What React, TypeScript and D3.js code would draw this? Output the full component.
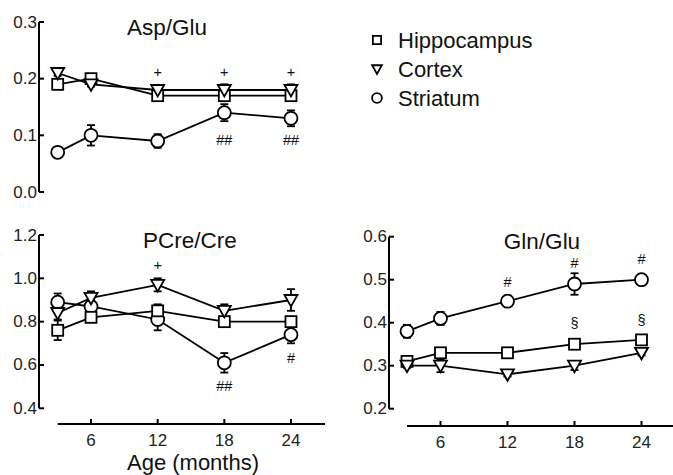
import React from "react";
import * as d3 from "d3";

const ages = [3, 6, 12, 18, 24];
const xTicks = [6, 12, 18, 24];
const seriesNames = ["Hippocampus", "Cortex", "Striatum"];

// Asp/Glu
const aspHippo = [0.19, 0.2, 0.17, 0.17, 0.17];
const aspHippoErr = [0.007, 0.005, 0.006, 0.006, 0.006];
const aspCortex = [0.21, 0.19, 0.18, 0.18, 0.18];
const aspCortexErr = [0.005, 0.004, 0.005, 0.01, 0.01];
const aspStriatum = [0.07, 0.1, 0.09, 0.14, 0.13];
const aspStriatumErr = [0.008, 0.018, 0.012, 0.015, 0.014];
const aspTicks = [0.0, 0.1, 0.2, 0.3];
const aspNotes = [
  { age: 12, v: 0.211, t: "+" },
  { age: 18, v: 0.211, t: "+" },
  { age: 24, v: 0.211, t: "+" },
  { age: 18, v: 0.092, t: "##" },
  { age: 24, v: 0.092, t: "##" },
];

// PCre/Cre
const pcrHippo = [0.76, 0.82, 0.85, 0.8, 0.8];
const pcrHippoErr = [0.045, 0.02, 0.03, 0.015, 0.02];
const pcrCortex = [0.84, 0.91, 0.97, 0.85, 0.9];
const pcrCortexErr = [0.03, 0.03, 0.03, 0.03, 0.05];
const pcrStriatum = [0.89, 0.87, 0.81, 0.61, 0.74];
const pcrStriatumErr = [0.04, 0.03, 0.05, 0.045, 0.04];
const pcrTicks = [0.4, 0.6, 0.8, 1.0, 1.2];
const pcrNotes = [
  { age: 12, v: 1.061, t: "+" },
  { age: 18, v: 0.504, t: "##" },
  { age: 24, v: 0.632, t: "#" },
];

// Gln/Glu
const glnHippo = [0.31, 0.33, 0.33, 0.35, 0.36];
const glnHippoErr = [0.006, 0.01, 0.006, 0.006, 0.006];
const glnCortex = [0.3, 0.3, 0.28, 0.3, 0.33];
const glnCortexErr = [0.005, 0.015, 0.005, 0.01, 0.006];
const glnStriatum = [0.38, 0.41, 0.45, 0.49, 0.5];
const glnStriatumErr = [0.015, 0.015, 0.005, 0.025, 0.01];
const glnTicks = [0.2, 0.3, 0.4, 0.5, 0.6];
const glnNotes = [
  { age: 12, v: 0.495, t: "#" },
  { age: 18, v: 0.539, t: "#" },
  { age: 24, v: 0.549, t: "#" },
  { age: 18, v: 0.399, t: "§" },
  { age: 24, v: 0.406, t: "§" },
];

const FONT = "'Liberation Sans', Arial, Helvetica, sans-serif";
const SW = 1.8;

function Marker({ kind, x, y, s = 1 }: { kind: number; x: number; y: number; s?: number }) {
  if (kind === 0) {
    const h = 5.5 * s;
    return <rect x={x - h} y={y - h} width={2 * h} height={2 * h} fill="#fff" stroke="#000" strokeWidth={SW} />;
  }
  if (kind === 1) {
    const w = 6.5 * s;
    const t = 5 * s;
    const b = 6.5 * s;
    return (
      <path
        d={`M${x - w},${y - t}L${x + w},${y - t}L${x},${y + b}Z`}
        fill="#fff"
        stroke="#000"
        strokeWidth={SW}
        strokeLinejoin="miter"
      />
    );
  }
  return <circle cx={x} cy={y} r={6.5 * s} fill="#fff" stroke="#000" strokeWidth={SW} />;
}

type Panel = {
  title: string;
  titleX: number;
  titleY: number;
  x: d3.ScaleLinear<number, number>;
  y: d3.ScaleLinear<number, number>;
  axisX: number;
  yTicks: number[];
  fmt: (v: number) => string;
  series: number[][];
  errs: number[][];
  notes: { age: number; v: number; t: string }[];
  showX: boolean;
  xAxisY: number;
  xAxisEnd: number;
};

function PanelView({ p }: { p: Panel }) {
  const line = d3
    .line<number>()
    .x((_, i) => p.x(ages[i]))
    .y((d) => p.y(d));
  const [y0, y1] = d3.extent(p.yTicks) as [number, number];
  const order = [2, 0, 1];
  return (
    <g>
      <line x1={p.axisX} x2={p.axisX} y1={p.y(y0)} y2={p.y(y1)} stroke="#000" strokeWidth={2} />
      {p.yTicks.map((t) => (
        <g key={t}>
          <line x1={p.axisX} x2={p.axisX + 5} y1={p.y(t)} y2={p.y(t)} stroke="#000" strokeWidth={2} />
          <text
            x={p.axisX - 2}
            y={p.y(t)}
            textAnchor="end"
            dominantBaseline="central"
            fontFamily={FONT}
            fontSize={17}
            fill="#222"
          >
            {p.fmt(t)}
          </text>
        </g>
      ))}
      {p.showX && (
        <g>
          <line x1={p.x(3)} x2={p.xAxisEnd} y1={p.xAxisY} y2={p.xAxisY} stroke="#000" strokeWidth={2} />
          {xTicks.map((t) => (
            <g key={t}>
              <line x1={p.x(t)} x2={p.x(t)} y1={p.xAxisY} y2={p.xAxisY - 5} stroke="#000" strokeWidth={2} />
              <text
                x={p.x(t)}
                y={p.xAxisY + 16}
                textAnchor="middle"
                dominantBaseline="central"
                fontFamily={FONT}
                fontSize={17}
                fill="#222"
              >
                {t}
              </text>
            </g>
          ))}
        </g>
      )}
      <text x={p.titleX} y={p.titleY} textAnchor="middle" fontFamily={FONT} fontSize={22.5} fill="#111">
        {p.title}
      </text>
      {p.series.map((s, k) => (
        <path key={"l" + k} d={line(s) || ""} fill="none" stroke="#000" strokeWidth={SW} />
      ))}
      {p.series.map((s, k) =>
        s.map((v, i) => {
          const e = p.errs[k][i];
          const cx = p.x(ages[i]);
          const ya = p.y(v + e);
          const yb = p.y(v - e);
          return (
            <g key={"e" + k + "-" + i} stroke="#000" strokeWidth={SW}>
              <line x1={cx} x2={cx} y1={ya} y2={yb} />
              <line x1={cx - 4} x2={cx + 4} y1={ya} y2={ya} />
              <line x1={cx - 4} x2={cx + 4} y1={yb} y2={yb} />
            </g>
          );
        })
      )}
      {order.map((k) =>
        p.series[k].map((v, i) => <Marker key={"m" + k + "-" + i} kind={k} x={p.x(ages[i])} y={p.y(v)} />)
      )}
      {p.notes.map((n, i) => (
        <text
          key={"n" + i}
          x={p.x(n.age)}
          y={p.y(n.v)}
          textAnchor="middle"
          dominantBaseline="central"
          fontFamily={FONT}
          fontSize={14.5}
          fill="#111"
        >
          {n.t}
        </text>
      ))}
    </g>
  );
}

export default function App() {
  const xLeft = d3.scaleLinear().domain([3, 27]).range([57.7, 324.3]);
  const xRight = d3.scaleLinear().domain([3, 27]).range([407, 675]);

  const panels: Panel[] = [
    {
      title: "Asp/Glu",
      titleX: 167,
      titleY: 35,
      x: xLeft,
      y: d3.scaleLinear().domain([0, 0.3]).range([192, 22]),
      axisX: 39,
      yTicks: aspTicks,
      fmt: d3.format(".1f"),
      series: [aspHippo, aspCortex, aspStriatum],
      errs: [aspHippoErr, aspCortexErr, aspStriatumErr],
      notes: aspNotes,
      showX: false,
      xAxisY: 0,
      xAxisEnd: 0,
    },
    {
      title: "PCre/Cre",
      titleX: 190,
      titleY: 248,
      x: xLeft,
      y: d3.scaleLinear().domain([0.4, 1.2]).range([408.3, 235]),
      axisX: 39,
      yTicks: pcrTicks,
      fmt: d3.format(".1f"),
      series: [pcrHippo, pcrCortex, pcrStriatum],
      errs: [pcrHippoErr, pcrCortexErr, pcrStriatumErr],
      notes: pcrNotes,
      showX: true,
      xAxisY: 424,
      xAxisEnd: 325,
    },
    {
      title: "Gln/Glu",
      titleX: 542,
      titleY: 248.5,
      x: xRight,
      y: d3.scaleLinear().domain([0.2, 0.6]).range([408.7, 236.7]),
      axisX: 389,
      yTicks: glnTicks,
      fmt: d3.format(".1f"),
      series: [glnHippo, glnCortex, glnStriatum],
      errs: [glnHippoErr, glnCortexErr, glnStriatumErr],
      notes: glnNotes,
      showX: true,
      xAxisY: 426,
      xAxisEnd: 673,
    },
  ];

  const legendY = d3.scalePoint<string>().domain(seriesNames).range([40, 98]);

  return (
    <svg width={673} height={475} style={{ position: "absolute", left: 0, top: 0, background: "#fff" }}>
      <rect width={673} height={475} fill="#fff" />
      {panels.map((p) => (
        <PanelView key={p.title} p={p} />
      ))}
      {seriesNames.map((n, k) => (
        <g key={n}>
          <Marker kind={k} x={377} y={legendY(n) as number} s={0.75} />
          <text
            x={398}
            y={legendY(n) as number}
            dominantBaseline="central"
            fontFamily={FONT}
            fontSize={22}
            fill="#111"
          >
            {n}
          </text>
        </g>
      ))}
      <text x={193} y={462} textAnchor="middle" dominantBaseline="central" fontFamily={FONT} fontSize={22} fill="#111">
        Age (months)
      </text>
    </svg>
  );
}
